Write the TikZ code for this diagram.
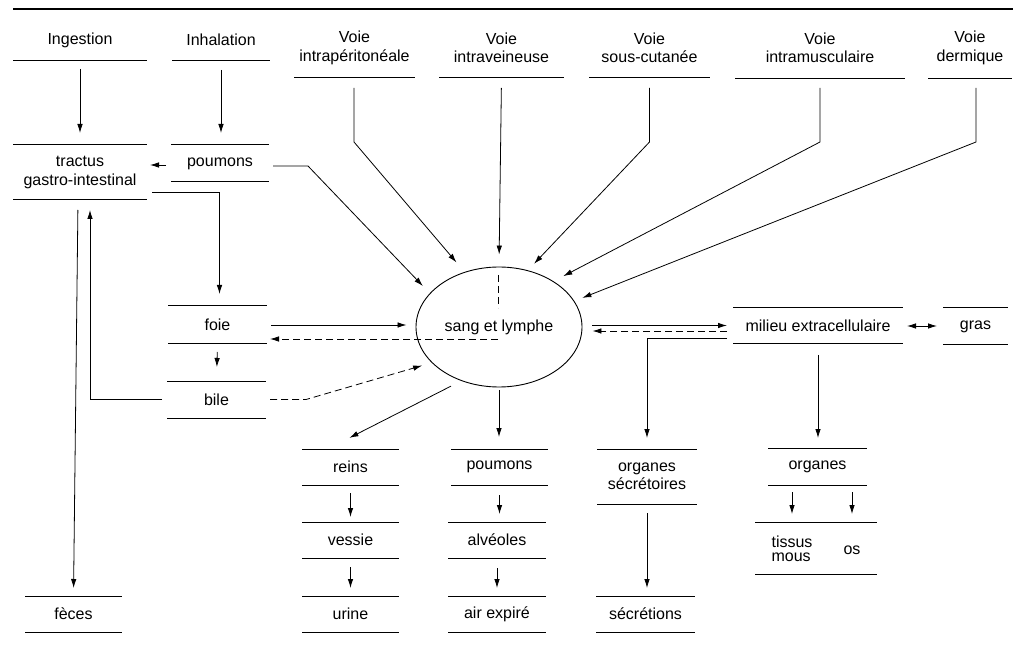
\documentclass[tikz,border=0pt]{standalone}
\usepackage{fontspec}
\setmainfont{Liberation Sans}
\usetikzlibrary{shapes.geometric,arrows.meta,calc}
\tikzset{
  txt/.style={inner sep=0pt, outer sep=0pt, align=center, font=\fontsize{16}{18.5}\selectfont},
  boxline/.style={line width=1pt},
  arr/.style={line width=0.8pt, -{Latex[length=9pt,width=5.5pt]}},
  dsh/.style={dash pattern=on 7pt off 4pt},
}
\newcommand\hdr[6]{% name x1 x2 yline ycenter text
  \node[txt, minimum width={#3-#2}, minimum height={2*(#4-#5)}] (#1) at ({(#2+#3)/2},#5) {#6};
  \draw[boxline] (#1.south west) -- (#1.south east);}
\newcommand\lbox[6]{% name x1 x2 ytop ybot text
  \node[txt, minimum width={#3-#2}, minimum height={#5-#4}] (#1) at ({(#2+#3)/2},{(#4+#5)/2}) {#6};
  \draw[boxline] (#1.north west) -- (#1.north east) (#1.south west) -- (#1.south east);}
\begin{document}
\begin{tikzpicture}[x=1pt,y=-1pt]
\useasboundingbox (0,0) rectangle (1013,647);
\draw[line width=1.1pt] (13,9) -- (1013,9);
% headers
\hdr{ing}{13}{147}{61}{40}{Ingestion}
\hdr{inh}{172}{270}{61}{40}{Inhalation}
\hdr{ip}{294}{415}{78}{48}{Voie\\intrapéritonéale}
\hdr{iv}{439}{564}{78}{48}{Voie\\intraveineuse}
\hdr{sc}{589}{710}{78}{48}{Voie\\sous-cutanée}
\hdr{im}{735}{905}{79}{48}{Voie\\intramusculaire}
\hdr{derm}{928}{1012}{79}{48}{Voie\\dermique}
% boxes
\lbox{tract}{13}{147}{145}{200}{tractus\\gastro-intestinal}
\lbox{poum}{171}{269}{145}{182}{poumons}
\lbox{foie}{168}{267}{306}{344}{foie}
\lbox{bile}{167}{266}{381}{418}{bile}
\lbox{feces}{25}{122}{596}{632}{fèces}
\lbox{reins}{302}{399}{449}{485}{reins}
\lbox{vessie}{302}{399}{522}{558}{vessie}
\lbox{urine}{302}{399}{596}{632}{urine}
\lbox{poumb}{451}{548}{449}{485}{poumons}
\lbox{alv}{448}{546}{522}{558}{alvéoles}
\lbox{air}{448}{546}{596}{632}{air expiré}
\lbox{orgsec}{597}{697}{449}{504}{organes\\sécrétoires}
\lbox{secr}{596}{695}{596}{632}{sécrétions}
\lbox{milieu}{733}{903}{308}{344}{milieu extracellulaire}
\lbox{gras}{943}{1008}{308}{345}{gras}
\lbox{org}{768}{867}{448}{485}{organes}
\lbox{tmos}{755}{877}{522}{574}{}
\node[txt, align=left, font=\fontsize{16}{14.5}\selectfont] (tissus) at (792,549) {tissus\\mous};
\node[txt] (os) at (852,550) {os};
% central ellipse
\node[draw, line width=0.9pt, ellipse, minimum width=166, minimum height=120, inner sep=0pt, font=\fontsize{16}{18.5}\selectfont] (sang) at (499,327) {sang et lymphe};
% header arrows
\draw[arr, shorten <=8, shorten >=12] (ing.south) -- (tract.north);
\draw[arr, shorten <=9, shorten >=12] (inh.south) -- (inh.south |- poum.north);
\draw[arr, shorten >=12.5] ([xshift=-0.5pt,yshift=-10pt]ip.south) -- ++(0,54) -- (sang.122.7);
\draw[arr, shorten <=10, shorten >=12] (iv.south) -- (sang.north);
\draw[arr, shorten >=9] ([yshift=-10pt]sc.south) -- ++(0,54) -- (sang.63.8);
\draw[arr, shorten >=11] ([yshift=-9pt]im.south) -- ++(0,54) -- (sang.40.8);
\draw[arr, shorten >=8.6] ([xshift=6pt,yshift=-9pt]derm.south) -- ++(0,54) -- (sang.19.1);
% left side
\draw[arr, shorten <=5, shorten >=3] ([yshift=-1.5pt]poum.west) -- ([yshift=-1.5pt]poum.west -| tract.east);
\draw[arr, shorten >=10] ([xshift=4pt,yshift=-2.5pt]poum.east) -- ++(35,0) -- (sang.154.5);
\draw[arr, shorten >=12] ([xshift=5pt,yshift=-19.5pt]tract.east) -| ([xshift=2pt]foie.north);
\draw[arr, shorten <=10, shorten >=8] ([xshift=-2pt]tract.south) -- (feces.north);
\draw[arr, shorten >=10] ([xshift=-5pt]bile.west) -| ([xshift=10pt]tract.south);
\draw[arr, shorten <=4, shorten >=9] (foie.east) -- (foie.east -| sang.west);
\coordinate (d1) at (498,275);
\coordinate (d2) at (498,308);
\coordinate (d3) at (498,339);
\draw[dsh, line width=0.8pt] (d1) -- (d2);
\draw[dsh, arr, shorten >=3] (d3) -- (d3 -| foie.east);
\draw[arr, shorten <=8, shorten >=14] (foie.south) -- (bile.north);
\draw[dsh, arr, shorten >=10] ([xshift=4pt]bile.east) -- ++(36,0) -- (sang.208.6);
% bottom columns
\draw[arr, shorten <=11.5, shorten >=24.6] (sang.235.6) -- ([xshift=-23pt]reins.north);
\draw[arr, shorten <=8, shorten >=5] (reins.south) -- (vessie.north);
\draw[arr, shorten <=9, shorten >=8] (vessie.south) -- (urine.north);
\draw[arr, shorten <=3, shorten >=12] (sang.south) -- (sang.south |- poumb.north);
\draw[arr, shorten <=10, shorten >=8] (poumb.south) -- (poumb.south |- alv.north);
\draw[arr, shorten <=10, shorten >=8] (alv.south) -- (air.north);
% right side
\draw[arr, shorten <=10, shorten >=6] ([yshift=1.5pt]sang.east) -- ([yshift=1.5pt]sang.east -| milieu.west);
\draw[dsh, arr, shorten <=6, shorten >=10] ([yshift=-5pt]milieu.west) -- ([yshift=-5pt]milieu.west -| sang.east);
\draw[arr, shorten >=11] ([xshift=-6pt,yshift=-12pt]milieu.west) -| (orgsec.north);
\draw[line width=0.8pt, {Latex[length=9pt,width=5.5pt]}-{Latex[length=9pt,width=5.5pt]}, shorten <=4, shorten >=6] (milieu.east) -- (milieu.east -| gras.west);
\draw[arr, shorten <=11, shorten >=10] (milieu.south) -- (milieu.south |- org.north);
\draw[arr, shorten <=7, shorten >=8] (org.south -| tissus) -- (tmos.north -| tissus);
\draw[arr, shorten <=7, shorten >=8] (org.south -| os) -- (tmos.north -| os);
\draw[arr, shorten <=9, shorten >=8] (orgsec.south) -- (orgsec.south |- secr.north);
\end{tikzpicture}
\end{document}
